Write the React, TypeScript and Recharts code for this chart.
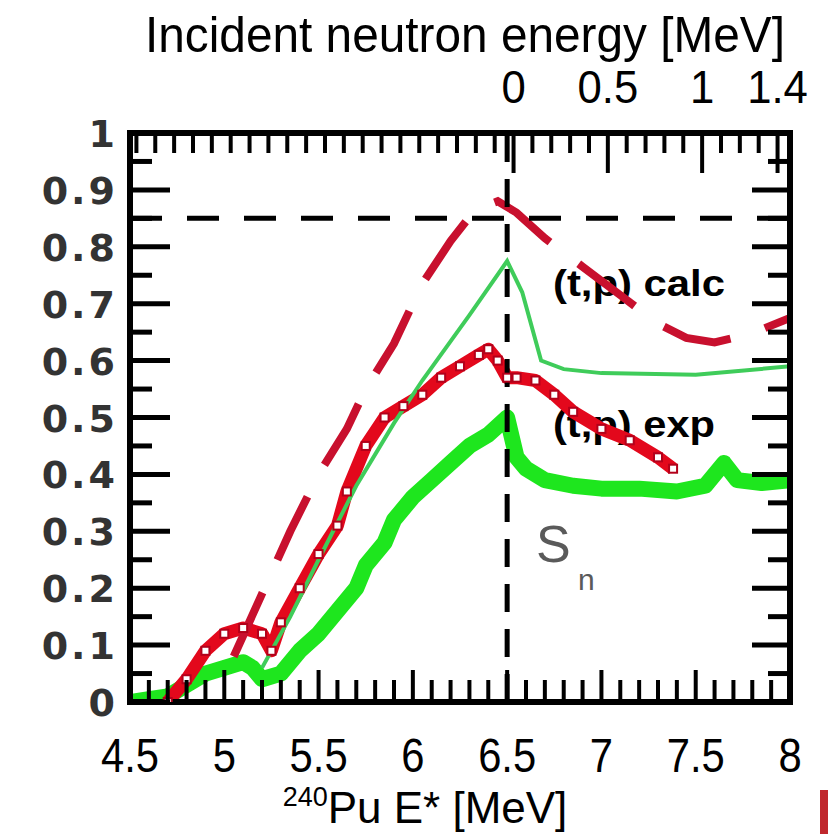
import React from 'react';
import { ComposedChart, Line, XAxis, YAxis, ReferenceLine, Customized } from 'recharts';

// Neutron separation energy of 240Pu (MeV), used for the top energy scale
const SN = 6.534;

// Excitation energy ticks (MeV)
const xTicks = [4.5, 4.6, 4.7, 4.8, 4.9, 5.0, 5.1, 5.2, 5.3, 5.4, 5.5, 5.6, 5.7, 5.8, 5.9, 6.0, 6.1, 6.2, 6.3, 6.4, 6.5, 6.6, 6.7, 6.8, 6.9, 7.0, 7.1, 7.2, 7.3, 7.4, 7.5, 7.6, 7.7, 7.8, 7.9, 8.0];
const xMajor = [4.5, 5, 5.5, 6, 6.5, 7, 7.5, 8];
const xLabels = ['4.5', '5', '5.5', '6', '6.5', '7', '7.5', '8'];

// Probability ticks
const yTicks = [0, 0.05, 0.1, 0.15, 0.2, 0.25, 0.3, 0.35, 0.4, 0.45, 0.5, 0.55, 0.6, 0.65, 0.7, 0.75, 0.8, 0.85, 0.9, 0.95, 1.0];
const yMajor = [0, 0.1, 0.2, 0.3, 0.4, 0.5, 0.6, 0.7, 0.8, 0.9, 1.0];
const yLabels = ['0', '0.1', '0.2', '0.3', '0.4', '0.5', '0.6', '0.7', '0.8', '0.9', '1'];

// Incident neutron energy ticks (MeV)
const enTicks = [-2.0, -1.9, -1.8, -1.7, -1.6, -1.5, -1.4, -1.3, -1.2, -1.1, -1.0, -0.9, -0.8, -0.7, -0.6, -0.5, -0.4, -0.3, -0.2, -0.1, 0, 0.1, 0.2, 0.3, 0.4, 0.5, 0.6, 0.7, 0.8, 0.9, 1.0, 1.1, 1.2, 1.3, 1.4];
const enMajor = [0, 0.5, 1, 1.4];
const enLabels = ['0', '0.5', '1', '1.4'];

// (t,p) surrogate, calculated
const redCalcE = [5.05, 5.2, 5.35, 5.5, 5.65, 5.75, 5.9, 6.05, 6.2, 6.33, 6.45, 6.55, 6.7, 6.9, 7.1, 7.3, 7.45, 7.6, 7.8, 8.0];
const redCalcV = [0.08, 0.19, 0.3, 0.4, 0.48, 0.55, 0.63, 0.735, 0.81, 0.865, 0.88, 0.86, 0.815, 0.765, 0.715, 0.665, 0.64, 0.632, 0.648, 0.675];

// (t,p) surrogate, measured
const redExpE = [4.7, 4.8, 4.9, 5.0, 5.1, 5.2, 5.25, 5.3, 5.4, 5.5, 5.6, 5.65, 5.75, 5.85, 5.95, 6.05, 6.15, 6.25, 6.35, 6.4, 6.45, 6.5, 6.55, 6.65, 6.75, 6.85, 7.0, 7.15, 7.3, 7.38];
const redExpV = [0.0, 0.04, 0.09, 0.12, 0.13, 0.12, 0.09, 0.14, 0.2, 0.26, 0.31, 0.37, 0.45, 0.5, 0.52, 0.54, 0.57, 0.59, 0.61, 0.62, 0.6, 0.57, 0.57, 0.565, 0.54, 0.51, 0.48, 0.46, 0.43, 0.41];

// Neutron-induced, calculated
const greenCalcE = [5.2, 5.35, 5.5, 5.7, 5.9, 6.05, 6.3, 6.5, 6.58, 6.68, 6.8, 7.0, 7.5, 8.0];
const greenCalcV = [0.06, 0.15, 0.25, 0.38, 0.49, 0.565, 0.68, 0.775, 0.72, 0.6, 0.585, 0.578, 0.575, 0.59];

// Neutron-induced, measured
const greenExpE = [4.5, 4.6, 4.7, 4.8, 4.9, 5.0, 5.1, 5.15, 5.2, 5.3, 5.4, 5.5, 5.6, 5.7, 5.75, 5.85, 5.9, 6.0, 6.1, 6.2, 6.3, 6.4, 6.5, 6.55, 6.6, 6.7, 6.85, 7.0, 7.2, 7.4, 7.55, 7.65, 7.72, 7.85, 8.0];
const greenExpV = [0.0, 0.005, 0.01, 0.03, 0.05, 0.06, 0.07, 0.06, 0.04, 0.05, 0.09, 0.12, 0.16, 0.2, 0.24, 0.28, 0.32, 0.36, 0.39, 0.42, 0.45, 0.47, 0.5, 0.43, 0.41, 0.39, 0.38, 0.375, 0.375, 0.37, 0.38, 0.42, 0.39, 0.385, 0.39];

const zip = (es: number[], vs: number[]) => es.map((e, i) => ({ e, v: vs[i] }));
const redCalc = zip(redCalcE, redCalcV);
const redExp = zip(redExpE, redExpV);
const greenCalc = zip(greenCalcE, greenCalcV);
const greenExp = zip(greenExpE, greenExpV);

const topTicks = enTicks.map((t) => +(t + SN).toFixed(4));

const findIdx = (arr: number[], v: number) => arr.findIndex((m) => Math.abs(m - v) < 1e-6);

const LABEL_FONT = '"Liberation Sans", Arial, sans-serif';

function BottomTick(props: any) {
  const { x, y, payload } = props;
  const i = findIdx(xMajor, payload.value);
  const len = i >= 0 ? 32 : 22;
  return (
    <g>
      <line x1={x} x2={x} y1={y} y2={y - len} stroke="#000" strokeWidth={4} />
      {i >= 0 && (
        <text
          transform={`translate(${x},${y + 70}) scale(0.87,1)`}
          textAnchor="middle"
          fontFamily={LABEL_FONT}
          fontSize={48}
          fill="#000"
        >
          {xLabels[i]}
        </text>
      )}
    </g>
  );
}

function TopTick(props: any) {
  const { x, y, payload } = props;
  const en = payload.value - SN;
  const i = findIdx(enMajor, en);
  const len = i >= 0 ? 40 : 20;
  return (
    <g>
      <line x1={x} x2={x} y1={y} y2={y + len} stroke="#000" strokeWidth={4} />
      {i >= 0 && (
        <text
          transform={`translate(${x},${y - 30}) scale(0.95,1)`}
          textAnchor="middle"
          fontFamily={LABEL_FONT}
          fontSize={46}
          fill="#000"
        >
          {enLabels[i]}
        </text>
      )}
    </g>
  );
}

function LeftTick(props: any) {
  const { x, y, payload } = props;
  const i = findIdx(yMajor, payload.value);
  const len = i >= 0 ? 40 : 22;
  return (
    <g>
      <line x1={x} x2={x + len} y1={y} y2={y} stroke="#000" strokeWidth={5} />
      {i >= 0 && (
        <text
          x={x - 12}
          y={y + 14}
          textAnchor="end"
          fontFamily='"DejaVu Sans", sans-serif'
          fontWeight="bold"
          fontSize={38}
          letterSpacing={3}
          fill="#333"
        >
          {yLabels[i]}
        </text>
      )}
    </g>
  );
}

function RightTick(props: any) {
  const { x, y, payload } = props;
  const i = findIdx(yMajor, payload.value);
  const len = i >= 0 ? 38 : 22;
  return <line x1={x} x2={x - len} y1={y} y2={y} stroke="#000" strokeWidth={5} />;
}

function ExpDot(props: any) {
  const { cx, cy, index } = props;
  if (cx == null || cy == null) return <g key={`ed${index}`} />;
  return (
    <rect key={`ed${index}`} x={cx - 4} y={cy - 4} width={8} height={8} fill="#fff" stroke="#b3001a" strokeWidth={2} />
  );
}

function Annotations() {
  return (
    <g>
      <text x={465} y={52} textAnchor="middle" textLength={640} lengthAdjust="spacingAndGlyphs" fontFamily={LABEL_FONT} fontSize={50} fill="#000">
        Incident neutron energy [MeV]
      </text>
      <text x={425} y={823} textAnchor="middle" fontFamily={LABEL_FONT} fontSize={44} fill="#000">
        <tspan fontSize={27} dy={-17}>240</tspan>
        <tspan dy={17}>Pu E* [MeV]</tspan>
      </text>
      <text x={553} y={296} textLength={172} lengthAdjust="spacingAndGlyphs" fontFamily={LABEL_FONT} fontWeight="bold" fontSize={37} fill="#000">
        (t,p) calc
      </text>
      <text x={553} y={437} textLength={162} lengthAdjust="spacingAndGlyphs" fontFamily={LABEL_FONT} fontWeight="bold" fontSize={37} fill="#000">
        (t,p) exp
      </text>
      <text x={536} y={562} fontFamily={LABEL_FONT} fontSize={52} fill="#5a5a5a">S</text>
      <text x={578} y={590} fontFamily={LABEL_FONT} fontSize={30} fill="#5a5a5a">n</text>
      <rect x={820} y={790} width={8} height={44} fill="#c0272d" />
    </g>
  );
}

const axisLine = { stroke: '#000', strokeWidth: 6, strokeLinecap: 'square' as const };

export default function App() {
  return (
    <div style={{ position: 'absolute', left: 0, top: 0, width: 828, height: 834, background: '#fff' }}>
      <ComposedChart width={828} height={834} margin={{ top: 0, right: 0, bottom: 0, left: 0 }}>
        <XAxis
          dataKey="e"
          type="number"
          domain={[4.5, 8]}
          allowDataOverflow
          ticks={xTicks}
          interval={0}
          height={132}
          tickSize={0}
          tickMargin={0}
          tickLine={false}
          axisLine={axisLine}
          tick={(p: any) => <BottomTick {...p} />}
        />
        <XAxis
          xAxisId="top"
          orientation="top"
          dataKey="e"
          type="number"
          domain={[4.5, 8]}
          allowDataOverflow
          ticks={topTicks}
          interval={0}
          height={133}
          tickSize={0}
          tickMargin={0}
          tickLine={false}
          axisLine={axisLine}
          tick={(p: any) => <TopTick {...p} />}
        />
        <YAxis
          type="number"
          domain={[0, 1]}
          allowDataOverflow
          ticks={yTicks}
          interval={0}
          width={130}
          tickSize={0}
          tickMargin={0}
          tickLine={false}
          axisLine={axisLine}
          tick={(p: any) => <LeftTick {...p} />}
        />
        <YAxis
          yAxisId="right"
          orientation="right"
          type="number"
          domain={[0, 1]}
          allowDataOverflow
          ticks={yTicks}
          interval={0}
          width={38}
          tickSize={0}
          tickMargin={0}
          tickLine={false}
          axisLine={axisLine}
          tick={(p: any) => <RightTick {...p} />}
        />
        <Line
          data={greenExp}
          dataKey="v"
          type="linear"
          stroke="#1ee61e"
          strokeWidth={16}
          strokeLinejoin="round"
          dot={false}
          isAnimationActive={false}
        />
        <Line
          data={redExp}
          dataKey="v"
          type="linear"
          stroke="#e3081c"
          strokeWidth={13}
          strokeLinejoin="round"
          dot={(p: any) => <ExpDot {...p} key={`ed${p.index}`} />}
          isAnimationActive={false}
        />
        <Line
          data={greenCalc}
          xAxisId="top"
          yAxisId="right"
          dataKey="v"
          type="linear"
          stroke="#3fcc5a"
          strokeWidth={4}
          dot={false}
          isAnimationActive={false}
        />
        <Line
          data={redCalc}
          dataKey="v"
          type="linear"
          stroke="#c8102e"
          strokeWidth={8}
          strokeDasharray="70 36"
          dot={false}
          isAnimationActive={false}
        />
        <ReferenceLine y={0.85} stroke="#000" strokeWidth={5} strokeDasharray="32 25" />
        <ReferenceLine x={6.5} stroke="#000" strokeWidth={5} strokeDasharray="28 17" />
        <Customized component={Annotations} />
      </ComposedChart>
    </div>
  );
}
